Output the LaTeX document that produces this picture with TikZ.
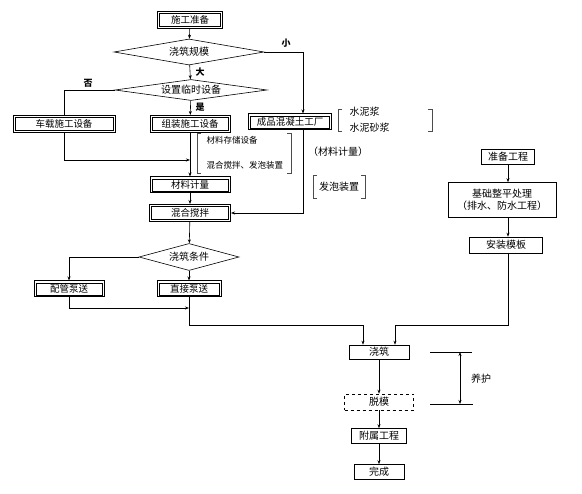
\documentclass[tikz,border=0pt]{standalone}
\usepackage{fontspec}
\setmainfont{Noto Sans CJK SC}
\usetikzlibrary{shapes.geometric,arrows.meta}

\tikzset{
  dbox/.style={draw, line width=1pt, inner sep=0pt,
    font=\fontsize{9.5}{11}\selectfont,
    path picture={\draw[line width=0.5pt]
      ([shift={(2.2pt,-2.2pt)}]path picture bounding box.north west) rectangle
      ([shift={(-2.2pt,2.2pt)}]path picture bounding box.south east);}},
  sbox/.style={draw, line width=0.6pt, inner sep=0pt, align=center,
    font=\fontsize{10}{12}\selectfont},
  decide/.style={draw, diamond, aspect=6, inner sep=0pt, line width=0.6pt,
    font=\fontsize{10}{12}\selectfont},
  note/.style={font=\fontsize{8.5}{10}\selectfont},
  tag/.style={font=\fontsize{9}{10}\selectfont\bfseries},
  flow/.style={line width=0.6pt, -{Stealth[length=4pt,width=3pt]}},
  plain/.style={line width=0.6pt},
  brack/.style={line width=0.5pt, black!70}
}

\begin{document}
\begin{tikzpicture}[x=1pt, y=-1pt]
    \useasboundingbox (0,0) rectangle (582,494);

    % left column
    \node[dbox, minimum width=65pt, minimum height=17pt] (start) at (190,20) {施工准备};
    \node[decide, minimum width=150pt, minimum height=26pt] (scale) at (189,52) {浇筑规模};
    \node[decide, minimum width=152pt, minimum height=21pt] (temp) at (191,90) {设置临时设备};
    \node[dbox, minimum width=102pt, minimum height=17pt] (car) at (64,124) {车载施工设备};
    \node[dbox, minimum width=80pt, minimum height=17pt] (asm) at (190,124) {组装施工设备};
    \node[dbox, minimum width=83pt, minimum height=16pt] (plant) at (290,122) {成品混凝土工厂};
    \node[dbox, minimum width=80pt, minimum height=16pt] (meter) at (190,185) {材料计量};
    \node[dbox, minimum width=81pt, minimum height=17pt] (mix) at (190,213) {混合搅拌};
    \node[decide, minimum width=100pt, minimum height=27pt] (cond) at (189,257) {浇筑条件};
    \node[dbox, minimum width=70pt, minimum height=16pt] (pipe) at (69,289) {配管泵送};
    \node[dbox, minimum width=64pt, minimum height=16pt] (direct) at (189,289) {直接泵送};

    % right column
    \node[sbox, minimum width=53pt, minimum height=15pt] (prep) at (508,157) {准备工程};
    \node[sbox, minimum width=108pt, minimum height=35pt] (base) at (502,200) {基础整平处理\\（排水、防水工程）};
    \node[sbox, minimum width=73pt, minimum height=16pt] (form) at (506,245) {安装模板};

    % bottom column
    \node[sbox, minimum width=60pt, minimum height=14pt] (pour) at (379,352) {浇筑};
    \node[sbox, dashed, minimum width=69pt, minimum height=16pt] (demold) at (379,402) {脱模};
    \node[sbox, minimum width=55pt, minimum height=15pt] (attach) at (379,436) {附属工程};
    \node[sbox, minimum width=50pt, minimum height=15pt] (done) at (379,472) {完成};

    % branch labels
    \node[tag] (small) at (286,43) {小};
    \node[tag] (big) at (200,72) {大};
    \node[tag] (no) at (88,83) {否};
    \node[tag] (yes) at (200,107) {是};

    % side notes
    \node[note, anchor=west] (store) at (203,140) {材料存储设备};
    \node[note, anchor=west] (foam) at (203,165) {混合搅拌、发泡装置};
    \node[font=\fontsize{10}{12}\selectfont, anchor=west] (paste) at (346,112) {水泥浆};
    \node[font=\fontsize{10}{12}\selectfont, anchor=west] (mortar) at (346,128) {水泥砂浆};
    \node[font=\fontsize{10}{12}\selectfont] (metering) at (338,152) {（材料计量）};
    \node[font=\fontsize{10}{12}\selectfont] (foamer) at (339,187) {发泡装置};
    \node[font=\fontsize{10}{12}\selectfont] (cure) at (481,379) {养护};

    % brackets
    \draw[brack] (201,133) -- (197,133) -- (197,173) -- (201,173);
    \draw[brack] (287,133) -- (291,133) -- (291,173) -- (287,173);
    \draw[brack] (342,109) -- (338,109) -- (338,131) -- (342,131);
    \draw[brack] (428,109) -- (432,109) -- (432,131) -- (428,131);
    \draw[brack] (317,175) -- (313,175) -- (313,198) -- (317,198);
    \draw[brack] (361,175) -- (365,175) -- (365,198) -- (361,198);

    % junction points
    \coordinate (j1) at (190,160);
    \coordinate (j2) at (189,308);
    \coordinate (j3) at (363,325);
    \coordinate (j4) at (395,325);

    % connectors
    \draw[flow] (start) -- (scale);
    \draw[flow] (scale.east) -| ([xshift=13pt]plant.north);
    \draw[flow] (scale) -- (temp);
    \draw[plain] (temp.west) -| (car.north);
    \draw[flow] (temp) -- (asm);
    \draw[flow] (car.south) |- (j1);
    \draw[flow] (asm) -- (meter);
    \draw[flow] (meter) -- (mix);
    \draw[flow] ([xshift=13pt]plant.south) |- (mix.east);
    \draw[flow] (mix) -- (cond);
    \draw[flow] (cond.west) -| (pipe.north);
    \draw[flow] (cond) -- (direct);
    \draw[flow] (pipe.south) |- (j2);
    \draw[flow] (direct.south) |- (j3) -- ([xshift=-16pt]pour.north);
    \draw[flow] (prep.south) -- (prep.south |- base.north);
    \draw[flow] (prep.south |- base.south) -- (prep.south |- form.north);
    \draw[flow] (prep.south |- form.south) |- (j4) -- ([xshift=16pt]pour.north);
    \draw[flow] (pour) -- (demold);
    \draw[flow] (demold) -- (attach);
    \draw[flow] (attach) -- (done);

    % curing span
    \coordinate (c1) at (430,352);
    \coordinate (c2) at (430,404);
    \draw[plain] (c1) -- ++(42,0);
    \draw[plain] (c2) -- ++(43,0);
    \draw[line width=0.6pt, {Stealth[length=4pt,width=3pt]}-{Stealth[length=4pt,width=3pt]}] (460,352) -- (460,404);
\end{tikzpicture}
\end{document}
